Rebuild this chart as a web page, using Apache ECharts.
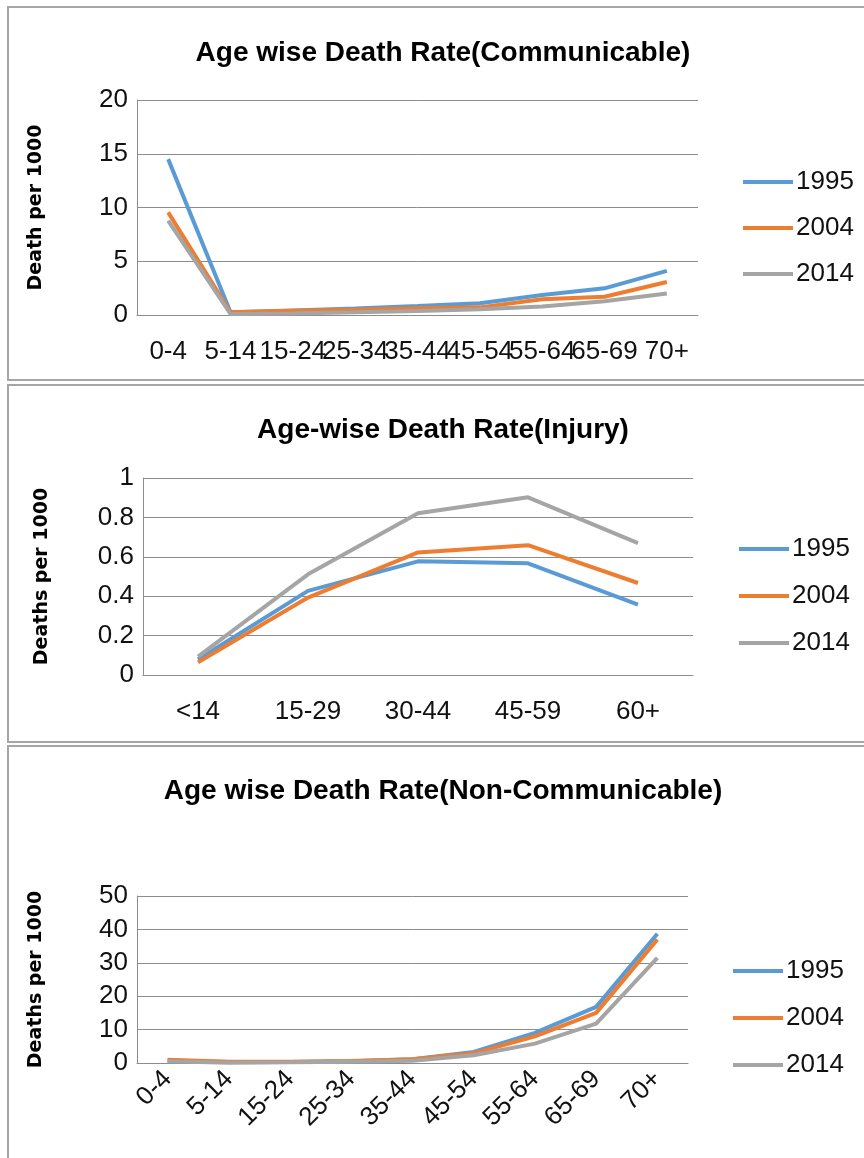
<!DOCTYPE html>
<html>
<head>
<meta charset="utf-8">
<script src="https://cdn.jsdelivr.net/npm/echarts@6/dist/echarts.min.js"></script>
<style>
  html, body { margin: 0; padding: 0; background: #fff; }
  #main { width: 864px; height: 1158px; }
</style>
</head>
<body>
<div id="main"></div>
<script>
// data
var years = ['1995', '2004', '2014'];

var commAges = ['0-4', '5-14', '15-24', '25-34', '35-44', '45-54', '55-64', '65-69', '70+'];
var comm1995 = [14.5, 0.25, 0.43, 0.6, 0.84, 1.09, 1.86, 2.48, 4.1];
var comm2004 = [9.55, 0.25, 0.4, 0.5, 0.62, 0.71, 1.46, 1.7, 3.07];
var comm2014 = [8.78, 0.1, 0.15, 0.25, 0.37, 0.53, 0.78, 1.27, 2.0];

var injAges = ['<14', '15-29', '30-44', '45-59', '60+'];
var inj1995 = [0.079, 0.427, 0.577, 0.567, 0.357];
var inj2004 = [0.064, 0.393, 0.622, 0.659, 0.467];
var inj2014 = [0.093, 0.511, 0.821, 0.902, 0.669];

var ncdAges = ['0-4', '5-14', '15-24', '25-34', '35-44', '45-54', '55-64', '65-69', '70+'];
var ncd1995 = [0.7, 0.3, 0.3, 0.5, 1.1, 3.3, 9.0, 16.8, 38.7];
var ncd2004 = [1.0, 0.4, 0.4, 0.6, 1.1, 2.9, 8.0, 15.0, 37.0];
var ncd2014 = [0.5, 0.1, 0.2, 0.4, 0.7, 2.3, 5.8, 11.8, 31.5];

var colors = ['#5B9BD5', '#ED7D31', '#A5A5A5'];
var narrow = '"Liberation Sans Narrow", "Liberation Sans", sans-serif';
var gridColor = '#8c8c8c';

var myChart = echarts.init(document.getElementById('main'));

function xAxisFor(idx, cats, rotate) {
    return {
        type: 'category',
        gridIndex: idx,
        data: cats,
        axisLine: { lineStyle: { color: gridColor, width: 1 } },
        axisTick: { show: false },
        axisLabel: {
            interval: 0,
            rotate: rotate,
            margin: rotate ? 12 : 24,
            color: '#111',
            fontFamily: narrow,
            fontSize: 26
        }
    };
}

function yAxisFor(idx, max, interval, name) {
    return {
        type: 'value',
        gridIndex: idx,
        min: 0,
        max: max,
        interval: interval,
        name: name,
        nameLocation: 'middle',
        nameGap: 91,
        nameTextStyle: {
            fontFamily: 'DejaVu Sans',
            fontWeight: 'bold',
            fontSize: 19,
            color: '#000'
        },
        axisLine: { show: true, lineStyle: { color: gridColor, width: 1 } },
        axisTick: { show: false },
        splitLine: { lineStyle: { color: gridColor, width: 1 } },
        axisLabel: {
            margin: 9,
            color: '#111',
            fontFamily: narrow,
            fontSize: 26
        }
    };
}

function lines(idx, arrs) {
    return arrs.map(function (d, i) {
        return {
            name: years[i],
            type: 'line',
            xAxisIndex: idx,
            yAxisIndex: idx,
            data: d,
            symbol: 'none',
            color: colors[i],
            lineStyle: { width: 4, color: colors[i] }
        };
    });
}

function legendAt(left, top, gap) {
    return {
        data: years,
        orient: 'vertical',
        left: left,
        top: top,
        icon: 'rect',
        itemWidth: 50,
        itemHeight: 4,
        itemGap: gap,
        selectedMode: false,
        textStyle: { fontFamily: narrow, fontSize: 26, color: '#111', padding: [0, 0, 0, -2] }
    };
}

function titleAt(text, top) {
    return {
        text: text,
        left: 438,
        top: top,
        textAlign: 'center',
        textStyle: { fontFamily: narrow, fontWeight: 'bold', fontSize: 28, color: '#000' }
    };
}

option = {
    animation: false,
    title: [
        titleAt('Age wise Death Rate(Communicable)', 34),
        titleAt('Age-wise Death Rate(Injury)', 411),
        titleAt('Age wise Death Rate(Non-Communicable)', 772)
    ],
    legend: [
        legendAt(738, 164, 20),
        legendAt(734, 531, 21),
        legendAt(728, 953, 21)
    ],
    grid: [
        { left: 137, top: 100, width: 561, height: 215 },
        { left: 143, top: 478, width: 550, height: 197 },
        { left: 137, top: 896, width: 551, height: 167 }
    ],
    xAxis: [
        xAxisFor(0, commAges, 0),
        xAxisFor(1, injAges, 0),
        xAxisFor(2, ncdAges, 45)
    ],
    yAxis: [
        yAxisFor(0, 20, 5, 'Death per 1000'),
        yAxisFor(1, 1, 0.2, 'Deaths per 1000'),
        yAxisFor(2, 50, 10, 'Deaths per 1000')
    ],
    graphic: [
        { type: 'rect', shape: { x: 8, y: 7, width: 880, height: 373 }, style: { fill: null, stroke: '#a6a6a6', lineWidth: 2 }, z: -1 },
        { type: 'rect', shape: { x: 8, y: 385, width: 880, height: 357 }, style: { fill: null, stroke: '#a6a6a6', lineWidth: 2 }, z: -1 },
        { type: 'rect', shape: { x: 8, y: 746, width: 880, height: 430 }, style: { fill: null, stroke: '#a6a6a6', lineWidth: 2 }, z: -1 }
    ],
    series: [].concat(
        lines(0, [comm1995, comm2004, comm2014]),
        lines(1, [inj1995, inj2004, inj2014]),
        lines(2, [ncd1995, ncd2004, ncd2014])
    )
};

myChart.setOption(option);
</script>
</body>
</html>
